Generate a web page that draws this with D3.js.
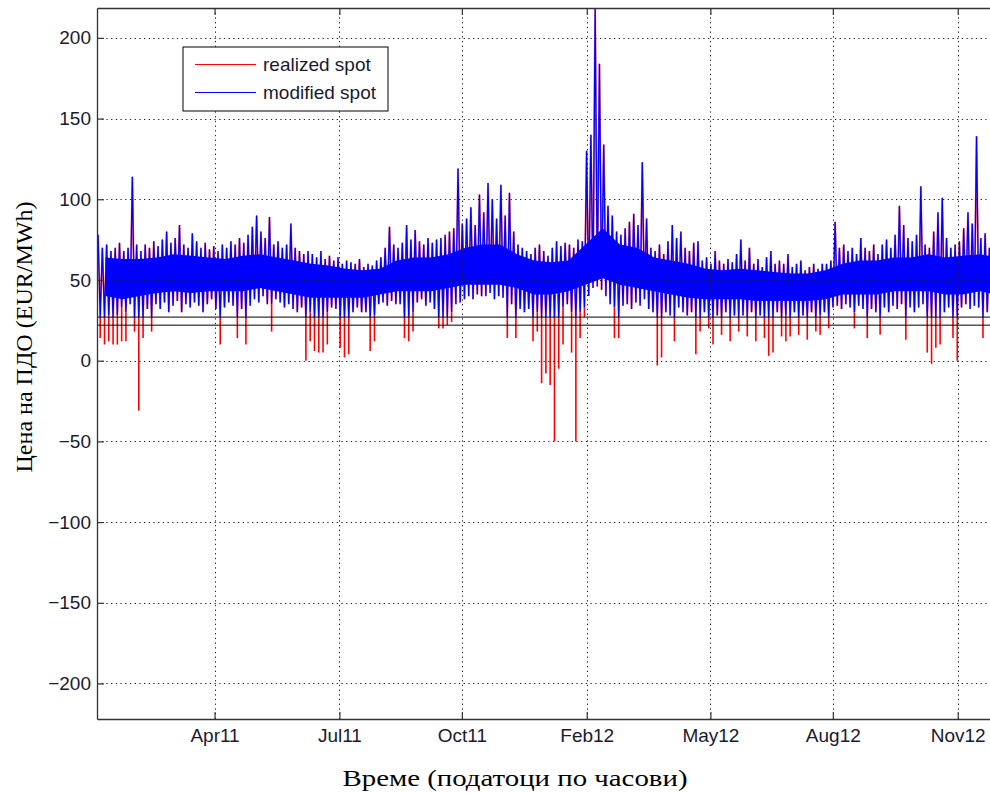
<!DOCTYPE html>
<html>
<head>
<meta charset="utf-8">
<script src="https://cdn.jsdelivr.net/npm/d3@7"></script>
<style>
  body { margin: 0; background: #fff; }
  svg text { font-family: "Liberation Sans", Arial, sans-serif; }
</style>
</head>
<body>
<div id="chart"></div>
<script>
// hourly spot series summarised in half-week bins (3.5 days), starting 1 Jan 2011
var seriesStart = Date.UTC(2011, 0, 1);
var binDays = 3.5;

// highest modified spot in each bin
var modifiedPeak = [
  78,70,72,68,70,73,68,70,114,72,
  68,72,70,74,71,75,80,73,76,84,
  72,70,79,74,70,73,69,71,68,72,
  70,74,72,76,73,78,83,90,80,76,
  89,72,74,70,72,85,70,68,66,68,
  66,64,68,63,65,62,64,60,62,61,
  60,63,58,60,59,62,64,70,83,72,
  70,73,84,75,81,74,72,76,73,75,
  76,78,80,82,119,85,88,95,84,103,
  92,110,100,88,109,90,104,80,72,70,
  68,66,70,72,68,65,70,74,71,73,
  72,70,75,74,130,140,218,184,134,96,
  90,80,78,82,86,91,84,123,88,70,
  68,72,66,74,84,76,80,70,68,73,
  74,62,64,60,68,62,60,63,61,66,
  75,62,70,60,63,58,64,68,60,62,
  60,66,58,60,62,56,58,60,57,60,
  60,62,86,70,72,68,70,66,76,70,
  68,72,66,72,75,70,78,96,84,76,
  74,78,108,72,70,80,92,101,76,70,
  72,74,82,92,85,139,76,79,70
];

// lowest modified spot in each bin
var modifiedLow = [
  27,27,28,27,28,33,30,35,27,27,
  27,32,27,35,32,36,30,34,37,30,
  35,33,36,34,30,35,38,32,27,33,
  36,34,27,32,27,34,38,36,40,35,
  35,38,36,33,35,32,30,33,27,30,
  27,27,27,30,33,32,27,27,27,30,
  33,30,30,27,28,35,36,34,37,35,
  35,27,27,30,36,38,34,36,32,27,
  27,27,30,35,36,38,40,38,41,40,
  40,42,38,40,39,27,35,27,32,30,
  32,27,30,27,27,27,27,27,33,35,
  30,27,30,33,40,45,46,44,40,35,
  33,27,34,35,32,36,34,38,32,30,
  27,27,30,28,27,33,30,28,30,27,
  27,30,27,27,28,27,30,27,28,27,
  28,27,30,27,28,27,27,27,30,27,
  28,27,30,27,28,27,30,27,28,30,
  27,33,34,32,35,33,30,34,32,27,
  32,30,27,33,30,34,32,35,27,33,
  30,33,35,27,27,27,27,30,33,27,
  27,33,35,32,34,33,27,30,27
];

// lowest realized spot in each bin
var realizedLow = [
  14,10,12,10,10,12,12,35,18,-31,
  14,32,18,35,32,36,30,34,37,30,
  35,33,36,34,30,35,38,32,10,33,
  36,34,14,32,10,34,38,36,40,35,
  18,38,36,33,35,32,30,33,0,12,
  6,5,5,10,33,32,8,2,4,30,
  33,30,30,6,12,35,36,34,37,35,
  35,14,12,18,36,38,34,36,32,20,
  20,22,24,35,36,38,40,38,41,40,
  40,42,38,40,39,14,35,14,32,30,
  32,12,18,-14,-8,-15,-50,-5,10,35,
  5,-50,14,27,40,45,46,44,40,35,
  14,14,34,35,32,36,34,38,32,30,
  -3,2,30,28,12,33,30,28,30,4,
  18,30,20,10,28,16,30,12,28,18,
  28,15,30,12,28,14,3,5,30,15,
  12,15,30,16,28,13,30,18,16,30,
  20,33,34,32,35,33,20,34,32,14,
  32,30,16,33,30,34,32,35,13,33,
  30,33,35,5,-2,8,10,30,33,14,
  0,33,35,32,34,33,14,30,-1
];

// dense band of the hourly prices, two-week windows
var coreHigh = [
  64,63,63,64,66,65,64,63,65,66,
  64,62,60,59,57,56,57,62,64,64,
  66,70,72,72,66,62,61,62,72,82,
  72,70,64,62,60,57,56,57,56,55,
  54,54,56,60,62,62,64,64,66,64,
  65,66,64
];
var coreLow = [
  40,38,40,42,43,42,43,43,43,45,
  43,41,39,39,39,39,41,43,43,43,
  45,47,47,47,45,41,41,43,47,51,
  47,45,43,41,39,38,38,38,37,37,
  37,37,38,41,41,41,43,43,43,41,
  41,43,41
];

var refLevels = [27, 22];
var yTicks = [-200, -150, -100, -50, 0, 50, 100, 150, 200];
var xTickDates = ["2011-04-07", "2011-07-18", "2011-10-26", "2012-02-05", "2012-05-16", "2012-08-24", "2012-12-04"];
var xTickLabels = ["Apr11", "Jul11", "Oct11", "Feb12", "May12", "Aug12", "Nov12"];
var legendNames = ["realized spot", "modified spot"];
var legendColors = ["#ff0000", "#0000ff"];

var width = 990, height = 793;
var plotL = 97, plotR = 992, plotT = 8, plotB = 719;

var svg = d3.select("#chart").append("svg")
  .attr("width", width).attr("height", height)
  .style("display", "block");

svg.append("rect").attr("width", width).attr("height", height).attr("fill", "#fff");

var x = d3.scaleUtc()
  .domain([new Date(Date.UTC(2011, 0, 1)), new Date(Date.UTC(2013, 0, 1))])
  .range([plotL, plotR]);
var y = d3.scaleLinear().domain([-222, 218.5]).range([plotB, plotT]);

function binDate(i, f) {
  return new Date(seriesStart + (i + f) * binDays * 86400000);
}

svg.append("clipPath").attr("id", "plotclip")
  .append("rect").attr("x", plotL).attr("y", plotT)
  .attr("width", plotR - plotL).attr("height", plotB - plotT);

var plot = svg.append("g").attr("clip-path", "url(#plotclip)");

// zigzag through each bin: up to the peak, down to the low
var zig = [];
modifiedPeak.forEach(function(p, i) {
  zig.push([binDate(i, 0.25), p]);
  zig.push([binDate(i, 0.75), modifiedLow[i]]);
});
var line = d3.line().x(function(d) { return x(d[0]); }).y(function(d) { return y(d[1]); });

// realized spot dips below the modified one
var dips = realizedLow.map(function(r, i) { return { i: i, r: r, m: modifiedLow[i] }; })
  .filter(function(d) { return d.r < d.m; });
plot.selectAll("line.dip").data(dips).enter().append("line")
  .attr("class", "dip")
  .attr("x1", function(d) { return x(binDate(d.i, 0.75)); })
  .attr("x2", function(d) { return x(binDate(d.i, 0.75)); })
  .attr("y1", function(d) { return y(d.m); })
  .attr("y2", function(d) { return y(d.r); })
  .attr("stroke", "#ff0000").attr("stroke-width", 1.6);

// realized spot where it equals the modified one, under the blue
plot.append("path").datum(zig)
  .attr("d", line).attr("fill", "none")
  .attr("stroke", "#ff0000").attr("stroke-width", 1.9).attr("stroke-opacity", 0.55);

plot.append("path").datum(zig)
  .attr("d", line).attr("fill", "none")
  .attr("stroke", "#0000ff").attr("stroke-width", 1.3);

// dense band
var core = coreHigh.map(function(h, k) {
  return { date: new Date(seriesStart + (k * 14 + 7) * 86400000), hi: h, lo: coreLow[k] };
});
plot.append("path").datum(core)
  .attr("d", d3.area()
    .x(function(d) { return x(d.date); })
    .y0(function(d) { return y(d.lo); })
    .y1(function(d) { return y(d.hi); }))
  .attr("fill", "#0000ff");

// horizontal reference levels
plot.selectAll("line.ref").data(refLevels).enter().append("line")
  .attr("class", "ref")
  .attr("x1", plotL).attr("x2", plotR)
  .attr("y1", function(d) { return y(d); }).attr("y2", function(d) { return y(d); })
  .attr("stroke", "#000").attr("stroke-width", 1);

// dotted grid
var tickDates = xTickDates.map(function(s) { return new Date(s + "T00:00:00Z"); });
var grid = svg.append("g").attr("stroke", "#222").attr("stroke-width", 1)
  .attr("stroke-dasharray", "1.3,3.4");
grid.selectAll("line.gy").data(yTicks).enter().append("line")
  .attr("x1", plotL).attr("x2", plotR)
  .attr("y1", function(d) { return Math.round(y(d)) + 0.5; })
  .attr("y2", function(d) { return Math.round(y(d)) + 0.5; });
grid.selectAll("line.gx").data(tickDates).enter().append("line")
  .attr("y1", plotT).attr("y2", plotB)
  .attr("x1", function(d) { return Math.round(x(d)) + 0.5; })
  .attr("x2", function(d) { return Math.round(x(d)) + 0.5; });

// axes, ticks pointing inwards
var axisLeft = svg.append("g").attr("transform", "translate(" + plotL + ",0)")
  .call(d3.axisLeft(y).tickValues(yTicks).tickSize(-7).tickSizeOuter(0).tickPadding(6)
    .tickFormat(function(d) { return d < 0 ? "\u2212" + Math.abs(d) : d; }));
var axisBottom = svg.append("g").attr("transform", "translate(0," + plotB + ")")
  .call(d3.axisBottom(x).tickValues(tickDates).tickSize(-7).tickSizeOuter(0).tickPadding(10)
    .tickFormat(function(d, i) { return xTickLabels[i]; }));
var axisTop = svg.append("g").attr("transform", "translate(0," + plotT + ")")
  .call(d3.axisTop(x).tickValues(tickDates).tickSize(-7).tickSizeOuter(0).tickFormat(""));

[axisLeft, axisBottom, axisTop].forEach(function(a) {
  a.select(".domain").attr("stroke", "#333").attr("stroke-width", 1.3);
  a.selectAll(".tick line").attr("stroke", "#333").attr("stroke-width", 1.2);
  a.selectAll(".tick text").attr("fill", "#1a1a2e").style("font-size", "19px");
});

// legend
var legend = svg.append("g");
legend.append("rect").attr("x", 183).attr("y", 47).attr("width", 205).attr("height", 64)
  .attr("fill", "#fff").attr("stroke", "#000").attr("stroke-width", 1);
legendNames.forEach(function(name, i) {
  var ly = 64.5 + i * 28;
  legend.append("line").attr("x1", 195).attr("x2", 256).attr("y1", ly).attr("y2", ly)
    .attr("stroke", legendColors[i]).attr("stroke-width", 1);
  legend.append("text").attr("x", 263).attr("y", ly + 6.5)
    .style("font-size", "19px").attr("fill", "#1a1a2e").text(name);
});

// axis titles
svg.append("text").attr("x", 515).attr("y", 786)
  .attr("text-anchor", "middle")
  .style("font-family", "'Liberation Serif', 'DejaVu Serif', serif").style("font-size", "24px")
  .attr("textLength", 345).attr("lengthAdjust", "spacingAndGlyphs")
  .text("Време (податоци по часови)");

svg.append("text").attr("transform", "translate(32,337) rotate(-90)")
  .attr("text-anchor", "middle")
  .style("font-family", "'Liberation Serif', 'DejaVu Serif', serif").style("font-size", "24px")
  .attr("textLength", 271).attr("lengthAdjust", "spacingAndGlyphs")
  .text("Цена на ПДО (EUR/MWh)");
</script>
</body>
</html>
